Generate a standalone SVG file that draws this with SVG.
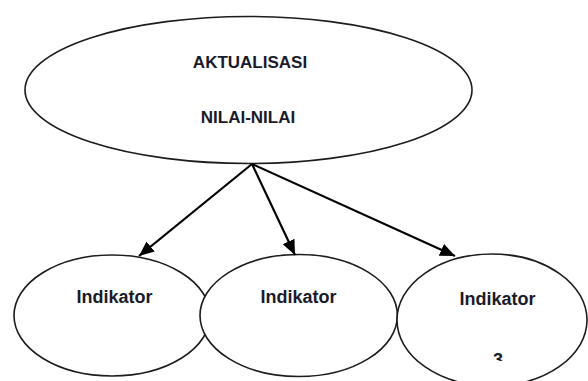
<svg xmlns="http://www.w3.org/2000/svg" width="588" height="381" viewBox="0 0 588 381">
<style>
.node ellipse{fill:#fff;stroke:#1c1c1c;stroke-width:1.6}
.lbl{font-family:"Liberation Sans",Arial,sans-serif;font-weight:bold;fill:#1a1a2a;text-anchor:middle}
.big{font-size:17px}
.small{font-size:18px}
.conn line{stroke:#000;stroke-width:2.2;fill:none}
</style>
<defs>
<marker id="ah" markerUnits="userSpaceOnUse" markerWidth="16" markerHeight="14" refX="15" refY="6.5" orient="auto">
<path d="M0,0 L15,6.5 L0,13 z" fill="#000"/>
</marker>
<clipPath id="clip3"><rect x="480" y="340" width="40" height="21"/></clipPath>
</defs>
<rect width="588" height="381" fill="#fff"/>
<g id="main" class="node">
<ellipse cx="248.5" cy="90" rx="223.5" ry="73.5"/>
<text class="lbl big" x="250" y="68">AKTUALISASI</text>
<text class="lbl big" x="248" y="123">NILAI-NILAI</text>
</g>
<g id="ind1" class="node">
<ellipse cx="112" cy="315.5" rx="98" ry="60.5"/>
<text class="lbl small" x="114.5" y="303">Indikator</text>
</g>
<g id="ind2" class="node">
<ellipse cx="298.7" cy="315.5" rx="98.7" ry="61"/>
<text class="lbl small" x="298.5" y="302.5">Indikator</text>
</g>
<g id="ind3" class="node">
<ellipse cx="492" cy="320" rx="95" ry="66"/>
<text class="lbl small" x="497.5" y="305">Indikator</text>
<text class="lbl small" x="498" y="366" clip-path="url(#clip3)">3</text>
</g>
<g id="connectors" class="conn">
<line x1="252" y1="164" x2="139" y2="256" marker-end="url(#ah)"/>
<line x1="252" y1="164" x2="295" y2="255" marker-end="url(#ah)"/>
<line x1="252" y1="164" x2="455" y2="256" marker-end="url(#ah)"/>
</g>
</svg>
